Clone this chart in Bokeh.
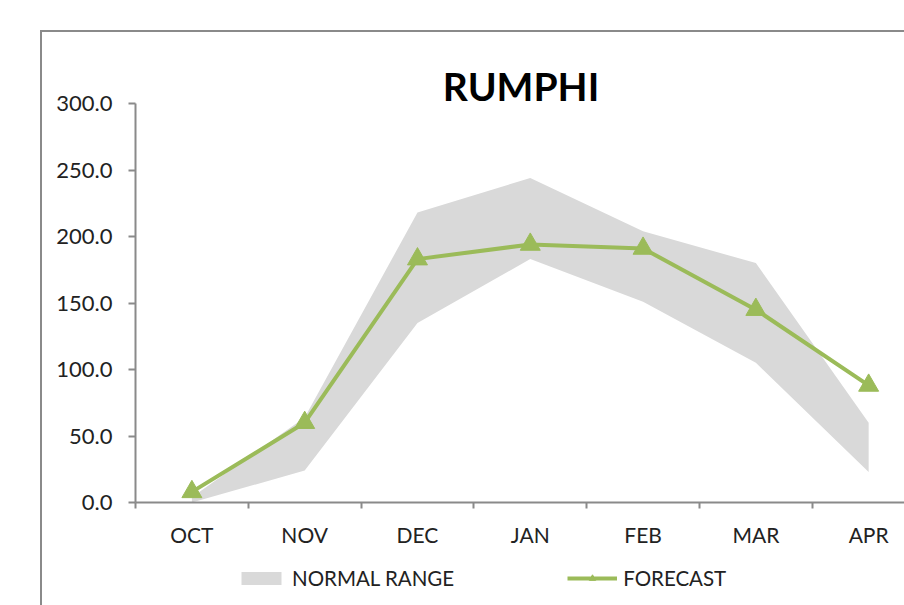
from bokeh.plotting import figure
from bokeh.layouts import column
from bokeh.models import (Range1d, FixedTicker, Legend, LegendItem, NumeralTickFormatter)
from bokeh.embed import file_html
from bokeh.resources import INLINE

months = ["OCT", "NOV", "DEC", "JAN", "FEB", "MAR", "APR"]
normal_low = [0, 24, 135, 183, 151, 105, 23]
normal_high = [4, 64, 218, 244, 204, 180, 60]
forecast = [8, 60, 183, 194, 191, 145, 88]
y_ticks = [0, 50, 100, 150, 200, 250, 300]

xs = list(range(len(months)))
GREEN = "#9bbb59"
GREY = "#d9d9d9"
AXIS = "#8a8a8a"
FONT = "Lato"

p = figure(width=864, height=523, output_backend="svg", toolbar_location=None,
           x_range=Range1d(-0.5, -0.5 + 769 / 112.5), y_range=Range1d(0, 300),
           min_border_left=93, min_border_right=0, min_border_top=71, min_border_bottom=53,
           outline_line_color=None)
p.styles = {"border-left": f"2px solid {AXIS}", "border-top": f"2px solid {AXIS}"}
p.margin = (30, 0, 0, 40)
p.grid.visible = False

p.title.text = "RUMPHI"
p.title.align = "center"
p.title.text_font = FONT
p.title.text_font_style = "bold"
p.title.text_font_size = "39px"
p.title.text_color = "#000000"
p.title.standoff = -10

p.varea(x=xs, y1=normal_low, y2=normal_high, fill_color=GREY)
p.line(xs, forecast, line_color=GREEN, line_width=4)
p.scatter(xs, forecast, marker="triangle", size=20, fill_color=GREEN, line_color=GREEN)

# axes
xa = p.xaxis[0]
xa.ticker = FixedTicker(ticks=xs, minor_ticks=[i - 0.5 for i in range(len(months) + 1)])
xa.major_label_overrides = {i: m for i, m in enumerate(months)}
xa.major_tick_out = 0
xa.major_tick_in = 0
xa.minor_tick_out = 6
xa.minor_tick_in = 0
xa.minor_tick_line_color = AXIS
xa.minor_tick_line_width = 2
xa.axis_line_color = AXIS
xa.axis_line_width = 2
xa.major_label_standoff = 13
xa.major_label_text_font = FONT
xa.major_label_text_font_size = "21px"
xa.major_label_text_color = "#222222"

ya = p.yaxis[0]
ya.ticker = FixedTicker(ticks=y_ticks)
ya.formatter = NumeralTickFormatter(format="0.0")
ya.major_tick_out = 7
ya.major_tick_in = 0
ya.major_tick_line_color = AXIS
ya.major_tick_line_width = 2
ya.axis_line_color = AXIS
ya.axis_line_width = 2
ya.minor_tick_line_color = None
ya.major_label_standoff = 16
ya.major_label_text_font = FONT
ya.major_label_text_font_size = "22px"
ya.major_label_text_color = "#222222"

# legend strip (separate figure so the legend is not clipped); its ranges keep the data out of view
p2 = figure(width=864, height=52, output_backend="svg", toolbar_location=None,
            x_axis_type=None, y_axis_type=None,
            x_range=Range1d(100, 101), y_range=Range1d(1000, 1001),
            min_border=0, outline_line_color=None)
p2.styles = {"border-left": f"2px solid {AXIS}"}
p2.margin = (0, 0, 0, 40)
p2.grid.visible = False
band_l = p2.varea(x=xs, y1=normal_low, y2=normal_high, fill_color=GREY)
ln_l = p2.line(xs, forecast, line_color=GREEN, line_width=4)
mk_l = p2.scatter(xs, forecast, marker="triangle", size=16, fill_color=GREEN, line_color=GREEN)

legend = Legend(items=[LegendItem(label="NORMAL RANGE", renderers=[band_l]),
                       LegendItem(label="FORECAST", renderers=[ln_l, mk_l])],
                orientation="horizontal", location=(101, 15), padding=0, margin=0,
                spacing=113, glyph_width=50, glyph_height=16, label_standoff=6,
                border_line_color=None, background_fill_alpha=0,
                label_text_font=FONT, label_text_font_size="20.5px",
                label_text_color="#222222")
p2.add_layout(legend, "center")

layout = column(p, p2, spacing=0)
open("out.html", "w").write(file_html(layout, INLINE))
